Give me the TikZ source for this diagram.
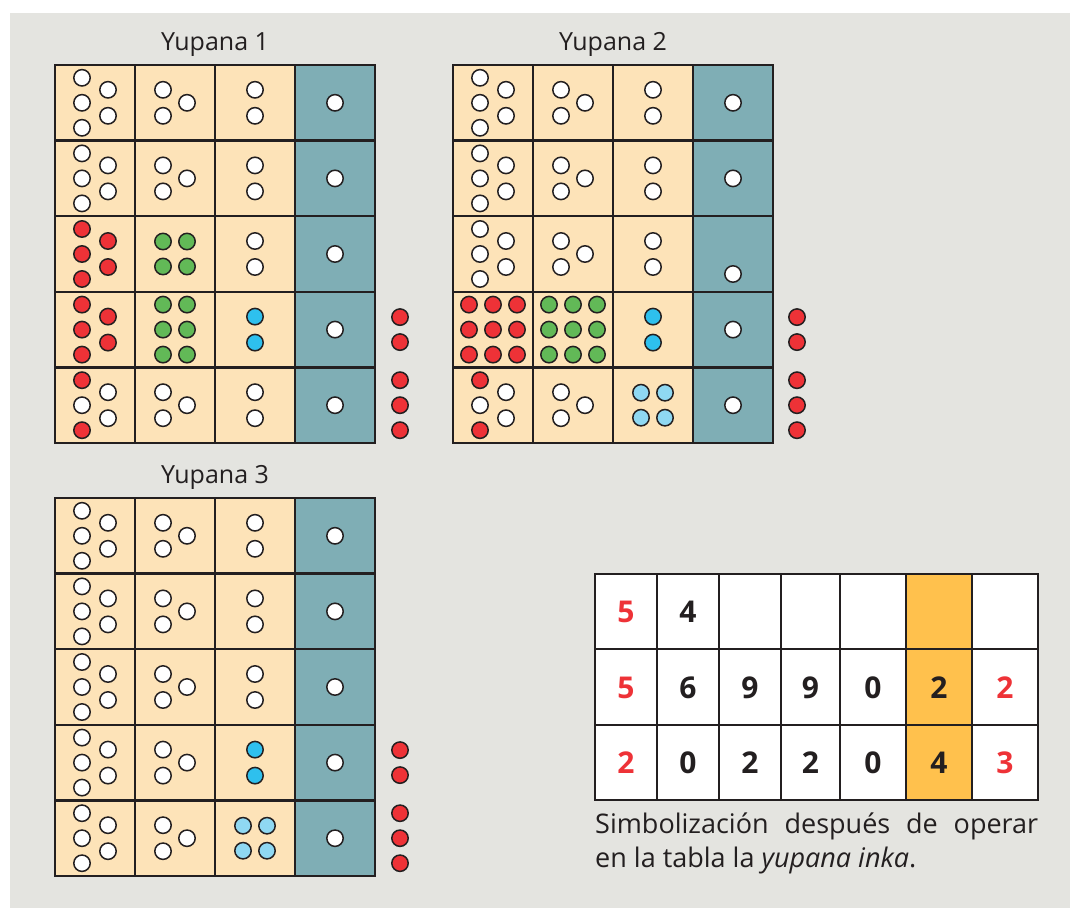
\documentclass[tikz,border=0pt]{standalone}
\usepackage{fontspec}
\setmainfont{Open Sans}
\definecolor{bgc}{HTML}{E4E4E0}
\definecolor{beige}{HTML}{FDE3B8}
\definecolor{tealc}{HTML}{7FAEB5}
\definecolor{R}{HTML}{EE3237}
\definecolor{G}{HTML}{62B957}
\definecolor{B}{HTML}{2EC0EE}
\definecolor{L}{HTML}{8FD8F2}
\definecolor{W}{HTML}{FFFFFF}
\definecolor{ink}{HTML}{231F20}
\definecolor{orangec}{HTML}{FFC14D}
\tikzset{
  bead/.style={draw=ink, line width=1.5pt},
  gridl/.style={draw=ink, line width=2.5pt, line cap=rect},
  tline/.style={draw=ink, line width=2.2pt, line cap=rect},
  title/.style={font=\fontsize{25}{30}\selectfont, text=ink, anchor=base},
  dig/.style={font=\fontsize{30}{30}\selectfont\bfseries, text=ink},
  rdig/.style={font=\fontsize{30}{30}\selectfont\bfseries, text=R},
}
\newcommand\bd[3]{\draw[bead,fill=#3] ({#1},{#2}) circle[radius=8.2pt];}
\newcommand\fivep[7]{\bd{#1-13}{#2-25}{#3}\bd{#1-13}{#2}{#4}\bd{#1-13}{#2+25}{#5}\bd{#1+13}{#2-13}{#6}\bd{#1+13}{#2+13}{#7}}
\newcommand\threep[3]{\bd{#1-12}{#2-13}{#3}\bd{#1-12}{#2+13}{#3}\bd{#1+12}{#2}{#3}}
\newcommand\twop[3]{\bd{#1}{#2-13}{#3}\bd{#1}{#2+13}{#3}}
\newcommand\fourp[3]{\bd{#1-12}{#2-12.5}{#3}\bd{#1+12}{#2-12.5}{#3}\bd{#1-12}{#2+12.5}{#3}\bd{#1+12}{#2+12.5}{#3}}
\newcommand\sixp[3]{\foreach \dx in {-12,12}{\foreach \dy in {-25,0,25}{\bd{#1+\dx}{#2+\dy}{#3}}}}
\newcommand\ninep[3]{\foreach \dx in {-24,0,24}{\foreach \dy in {-25,0,25}{\bd{#1+\dx}{#2+\dy}{#3}}}}
\newcommand\redtwo[2]{\bd{#1}{#2-12.5}{R}\bd{#1}{#2+12.5}{R}}
\newcommand\redthree[2]{\bd{#1}{#2-25}{R}\bd{#1}{#2}{R}\bd{#1}{#2+25}{R}}
\newcommand\yupgrid[2]{%
  \fill[beige] (#1,#2) rectangle ++(240,378);
  \fill[tealc] ({#1+240},#2) rectangle ++(80,378);
  \foreach \i in {0,...,4} {\draw[gridl] ({#1+80*\i},#2) -- ++(0,378);}
  \foreach \j in {0,...,5} {\draw[gridl] (#1,{#2+75.6*\j}) -- ++(320,0);}
}
% standard row: x0 of grid, row centre y
\newcommand\stdrow[2]{\fivep{#1+40}{#2}{W}{W}{W}{W}{W}\threep{#1+120}{#2}{W}\twop{#1+200}{#2}{W}\bd{#1+280}{#2}{W}}
\begin{document}
\begin{tikzpicture}[x=1pt,y=-1pt]
\useasboundingbox (0,0) rectangle (1070,908);
\fill[white] (0,0) rectangle (1070,908);
\fill[bgc] (10,13) rectangle (1070,908);

% ---------- Yupana 1 ----------
\node[title] (t1) at (215,50) {Yupana 1};
\yupgrid{55}{65}
\stdrow{55}{102.8}
\stdrow{55}{178.4}
\fivep{95}{254}{R}{R}{R}{R}{R}\fourp{175}{254}{G}\twop{255}{254}{W}\bd{335}{254}{W}
\fivep{95}{329.6}{R}{R}{R}{R}{R}\sixp{175}{329.6}{G}\twop{255}{329.6}{B}\bd{335}{329.6}{W}
\redtwo{400}{329.6}
\fivep{95}{405.2}{R}{W}{R}{W}{W}\threep{175}{405.2}{W}\twop{255}{405.2}{W}\bd{335}{405.2}{W}
\redthree{400}{405.2}

% ---------- Yupana 2 ----------
\node[title] (t2) at (613,50) {Yupana 2};
\yupgrid{453}{65}
\stdrow{453}{102.8}
\stdrow{453}{178.4}
\fivep{493}{254}{W}{W}{W}{W}{W}\threep{573}{254}{W}\twop{653}{254}{W}\bd{733}{274}{W}
\ninep{493}{329.6}{R}\ninep{573}{329.6}{G}\twop{653}{329.6}{B}\bd{733}{329.6}{W}
\redtwo{797}{329.6}
\fivep{493}{405.2}{R}{W}{R}{W}{W}\threep{573}{405.2}{W}\fourp{653}{405.2}{L}\bd{733}{405.2}{W}
\redthree{797}{405.2}

% ---------- Yupana 3 ----------
\node[title] (t3) at (215,483) {Yupana 3};
\yupgrid{55}{498}
\stdrow{55}{535.8}
\stdrow{55}{611.4}
\stdrow{55}{687}
\fivep{95}{762.6}{W}{W}{W}{W}{W}\threep{175}{762.6}{W}\twop{255}{762.6}{B}\bd{335}{762.6}{W}
\redtwo{400}{762.6}
\fivep{95}{838.2}{W}{W}{W}{W}{W}\threep{175}{838.2}{W}\fourp{255}{838.2}{L}\bd{335}{838.2}{W}
\redthree{400}{838.2}

% ---------- Table ----------
\fill[white] (595,574) rectangle (1038,800);
\fill[orangec] (906,574) rectangle (972,800);
\foreach \x in {595,657,719,781,840,906,972,1038} {\draw[tline] (\x,574) -- (\x,800);}
\foreach \y in {574,649,725,800} {\draw[tline] (595,\y) -- (1038,\y);}
\node[rdig] (a1) at (626,612) {5};
\node[dig]  (a2) at (688,612) {4};
\node[rdig] (b1) at (626,688) {5};
\node[dig]  (b2) at (688,688) {6};
\node[dig]  (b3) at (750,688) {9};
\node[dig]  (b4) at (810.5,688) {9};
\node[dig]  (b5) at (873,688) {0};
\node[dig]  (b6) at (939,688) {2};
\node[rdig] (b7) at (1005,688) {2};
\node[rdig] (c1) at (626,763) {2};
\node[dig]  (c2) at (688,763) {0};
\node[dig]  (c3) at (750,763) {2};
\node[dig]  (c4) at (810.5,763) {2};
\node[dig]  (c5) at (873,763) {0};
\node[dig]  (c6) at (939,763) {4};
\node[rdig] (c7) at (1005,763) {3};
\node[anchor=north west, inner sep=0pt, text width=443pt, align=justify, text=ink,
      font=\fontsize{27}{34}\selectfont] (cap) at (595,813)
  {Simbolización después de operar\linebreak en la tabla la \textit{yupana inka}.};
\end{tikzpicture}
\end{document}
